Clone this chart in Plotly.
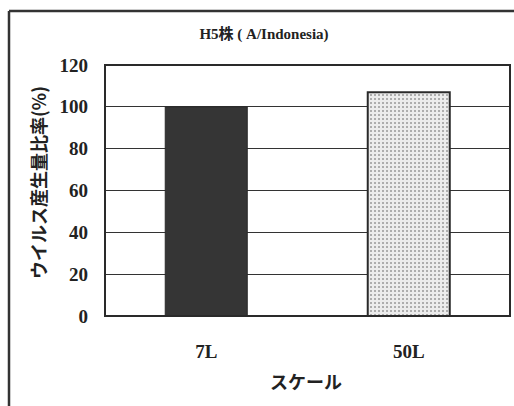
import plotly.graph_objects as go

categories = ["7L", "50L"]
values = [100, 107]
y_ticks = [0, 20, 40, 60, 80, 100, 120]
title_text = "H5株 ( A/Indonesia)"
y_title = "ウイルス産生量比率(%)"
x_title = "スケール"

W, H = 514, 406
L, R, T, B = 105, 4, 65, 90
pw, ph = W - L - R, H - T - B

fig = go.Figure()
fig.add_trace(go.Bar(
    x=categories, y=values,
    marker=dict(
        color=["#353535", "#ececec"],
        line=dict(color="#2a2a2a", width=[1, 2]),
        pattern=dict(shape=["", "."], fgcolor="#9a9a9a", bgcolor="#f4f4f4", size=4, solidity=0.2),
    ),
    width=0.405,
))

serif = "Liberation Serif"
cjk = "Noto Sans CJK JP"

def px(xp):
    return (xp - L) / pw

def py(yp):
    return (H - B - yp) / ph

fig.update_layout(
    width=W, height=H,
    margin=dict(l=L, r=R, t=T, b=B, pad=0),
    paper_bgcolor="white", plot_bgcolor="white",
    showlegend=False, bargap=0.595,
    title=dict(text=f"<b>{title_text}</b>", x=264 / W, xanchor="center", y=1 - 34 / H, yanchor="middle",
               font=dict(family=f"{serif}, {cjk}", size=15, color="#222")),
    xaxis=dict(
        tickfont=dict(family=serif, size=19, color="#222"),
        ticks="", showline=False,
        ticklabelstandoff=22,
    ),
    yaxis=dict(
        range=[0, 120], tickvals=y_ticks, ticktext=[f"<b>{v}</b>" for v in y_ticks],
        tickfont=dict(family=serif, size=19, color="#222"),
        showgrid=True, gridcolor="#333", gridwidth=1.3,
        ticks="", showline=False, zeroline=False,
        ticklabelstandoff=16,
    ),
    annotations=[
        dict(text=f"<b>{y_title}</b>", xref="paper", yref="paper", x=px(38), y=py(183),
             xanchor="center", yanchor="middle", textangle=-90, showarrow=False,
             font=dict(family=cjk, size=18, color="#222")),
        dict(text=f"<b>{x_title}</b>", xref="paper", yref="paper", x=px(306), y=py(381),
             xanchor="center", yanchor="middle", showarrow=False,
             font=dict(family=cjk, size=18, color="#222")),
    ],
)
fig.update_xaxes(tickvals=categories, ticktext=[f"<b>{c}</b>" for c in categories])

# plot area border
fig.add_shape(type="rect", xref="paper", yref="paper", x0=0, y0=0, x1=1, y1=1,
              line=dict(color="#2a2a2a", width=2), layer="above")
# outer frame (left and top)
fx = px(9)
fy = py(11)
fig.add_shape(type="line", xref="paper", yref="paper", x0=fx, y0=fy, x1=fx, y1=-2,
              line=dict(color="#333", width=2.5))
fig.add_shape(type="line", xref="paper", yref="paper", x0=fx, y0=fy, x1=2, y1=fy,
              line=dict(color="#333", width=2.5))

fig.write_html("out.html")
